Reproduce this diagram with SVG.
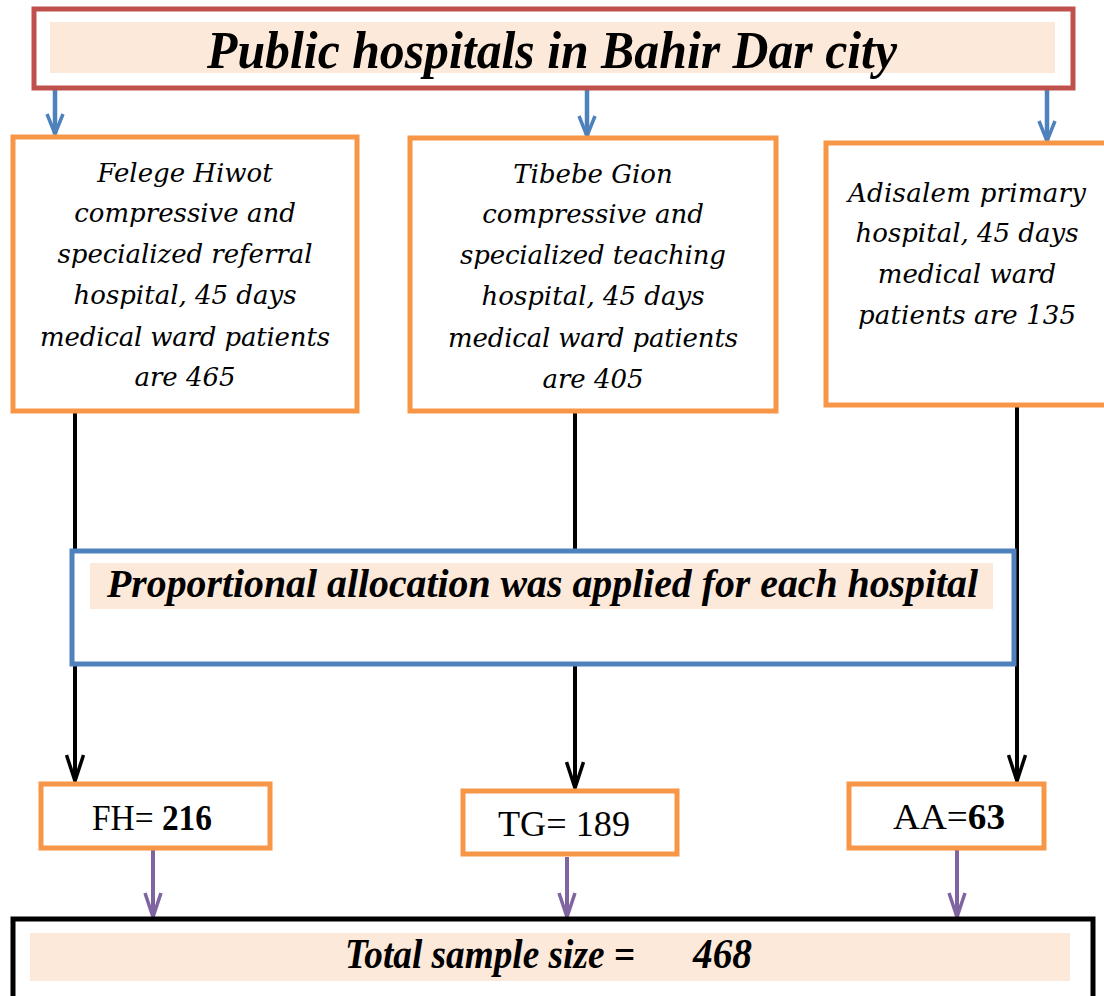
<svg xmlns="http://www.w3.org/2000/svg" width="1104" height="996" viewBox="0 0 1104 996">
<style>
.bg{fill:#ffffff}
.peach{fill:#fde9d9}
.hosp{fill:#ffffff;stroke:#f79646;stroke-width:5}
.it{font-family:"DejaVu Serif","Liberation Serif",serif;font-style:italic;font-size:26px;fill:#000;text-anchor:middle}
.bi{font-family:"Liberation Serif",serif;font-style:italic;font-weight:bold;fill:#000}
.rg{font-family:"Liberation Serif",serif;font-size:35px;fill:#000}
.b{font-weight:bold}
.blk{stroke:#000;stroke-width:4;fill:none}
.blu{stroke:#4f81bd;stroke-width:4.5;fill:none}
.pur{stroke:#8064a2;stroke-width:4;fill:none}
</style>
<defs>
<marker id="ab" viewBox="0 0 30 20" refX="28" refY="10" markerWidth="30" markerHeight="20" markerUnits="userSpaceOnUse" orient="auto"><path d="M2,1.5 L28,10 L2,18.5" fill="none" stroke="#000" stroke-width="3.5"/></marker>
<marker id="au" viewBox="0 0 24 20" refX="22" refY="10" markerWidth="24" markerHeight="20" markerUnits="userSpaceOnUse" orient="auto"><path d="M2,2 L22,10 L2,18" fill="none" stroke="#4f81bd" stroke-width="3.5"/></marker>
<marker id="ap" viewBox="0 0 28 20" refX="26" refY="10" markerWidth="28" markerHeight="20" markerUnits="userSpaceOnUse" orient="auto"><path d="M2,2 L26,10 L2,18" fill="none" stroke="#8064a2" stroke-width="3.5"/></marker>
</defs>
<rect x="0" y="0" width="1104" height="996" class="bg"/>
<g id="connectors">
<line class="blu" x1="55" y1="90" x2="55" y2="134" marker-end="url(#au)"/>
<line class="blu" x1="587" y1="90" x2="587" y2="136" marker-end="url(#au)"/>
<line class="blu" x1="1047" y1="90" x2="1047" y2="141" marker-end="url(#au)"/>
<line class="blk" x1="75" y1="412" x2="75" y2="781" marker-end="url(#ab)"/>
<line class="blk" x1="575" y1="412" x2="575" y2="788" marker-end="url(#ab)"/>
<line class="blk" x1="1017" y1="407" x2="1017" y2="781" marker-end="url(#ab)"/>
<line class="pur" x1="153" y1="850" x2="153" y2="917" marker-end="url(#ap)"/>
<line class="pur" x1="567" y1="857" x2="567" y2="917" marker-end="url(#ap)"/>
<line class="pur" x1="957" y1="850" x2="957" y2="917" marker-end="url(#ap)"/>
</g>
<g id="top">
<rect x="34" y="9" width="1039" height="79" fill="#fff" stroke="#c0504d" stroke-width="5"/>
<rect class="peach" x="50" y="22" width="1005" height="51"/>
<text class="bi" x="207" y="68" font-size="52" textLength="690" lengthAdjust="spacingAndGlyphs">Public hospitals in Bahir Dar city</text>
</g>
<g id="felege">
<rect class="hosp" x="13" y="137" width="344" height="274"/>
<text class="it" x="185" y="182">Felege Hiwot</text>
<text class="it" x="185" y="222">compressive and</text>
<text class="it" x="185" y="263" textLength="255">specialized referral</text>
<text class="it" x="185" y="304">hospital, 45 days</text>
<text class="it" x="185" y="346" textLength="290">medical ward patients</text>
<text class="it" x="185" y="386">are 465</text>
</g>
<g id="tibebe">
<rect class="hosp" x="410" y="138" width="366" height="273"/>
<text class="it" x="593" y="183">Tibebe Gion</text>
<text class="it" x="593" y="223">compressive and</text>
<text class="it" x="593" y="264" textLength="266">specialized teaching</text>
<text class="it" x="593" y="305">hospital, 45 days</text>
<text class="it" x="593" y="347" textLength="290">medical ward patients</text>
<text class="it" x="593" y="388">are 405</text>
</g>
<g id="adisalem">
<rect class="hosp" x="826" y="143" width="290" height="262"/>
<text class="it" x="967" y="202" textLength="238">Adisalem primary</text>
<text class="it" x="967" y="242">hospital, 45 days</text>
<text class="it" x="967" y="283">medical ward</text>
<text class="it" x="967" y="324" textLength="218">patients are 135</text>
</g>
<g id="proportional">
<rect x="72" y="551" width="942" height="113" fill="#fff" stroke="#4f81bd" stroke-width="5"/>
<rect class="peach" x="90" y="563" width="903" height="46"/>
<text class="bi" x="107" y="597" font-size="41" textLength="871" lengthAdjust="spacingAndGlyphs">Proportional allocation was applied for each hospital</text>
</g>
<g id="fh">
<rect class="hosp" x="41" y="784" width="229" height="64"/>
<text class="rg" x="92" y="830" textLength="120" lengthAdjust="spacingAndGlyphs">FH= <tspan class="b">216</tspan></text>
</g>
<g id="tg">
<rect class="hosp" x="463" y="791" width="214" height="63"/>
<text class="rg" x="498" y="836" textLength="132" lengthAdjust="spacingAndGlyphs">TG= 189</text>
</g>
<g id="aa">
<rect class="hosp" x="849" y="784" width="195" height="64"/>
<text class="rg" x="893" y="829" textLength="112" lengthAdjust="spacingAndGlyphs">AA=<tspan class="b">63</tspan></text>
</g>
<g id="total">
<rect x="13" y="919" width="1080" height="80" fill="#fff" stroke="#000" stroke-width="5"/>
<rect class="peach" x="30" y="933" width="1040" height="48"/>
<text class="bi" x="345" y="968" font-size="43" textLength="290" lengthAdjust="spacingAndGlyphs">Total sample size =</text>
<text class="bi" x="693" y="968" font-size="43" textLength="59" lengthAdjust="spacingAndGlyphs">468</text>
</g>
</svg>
